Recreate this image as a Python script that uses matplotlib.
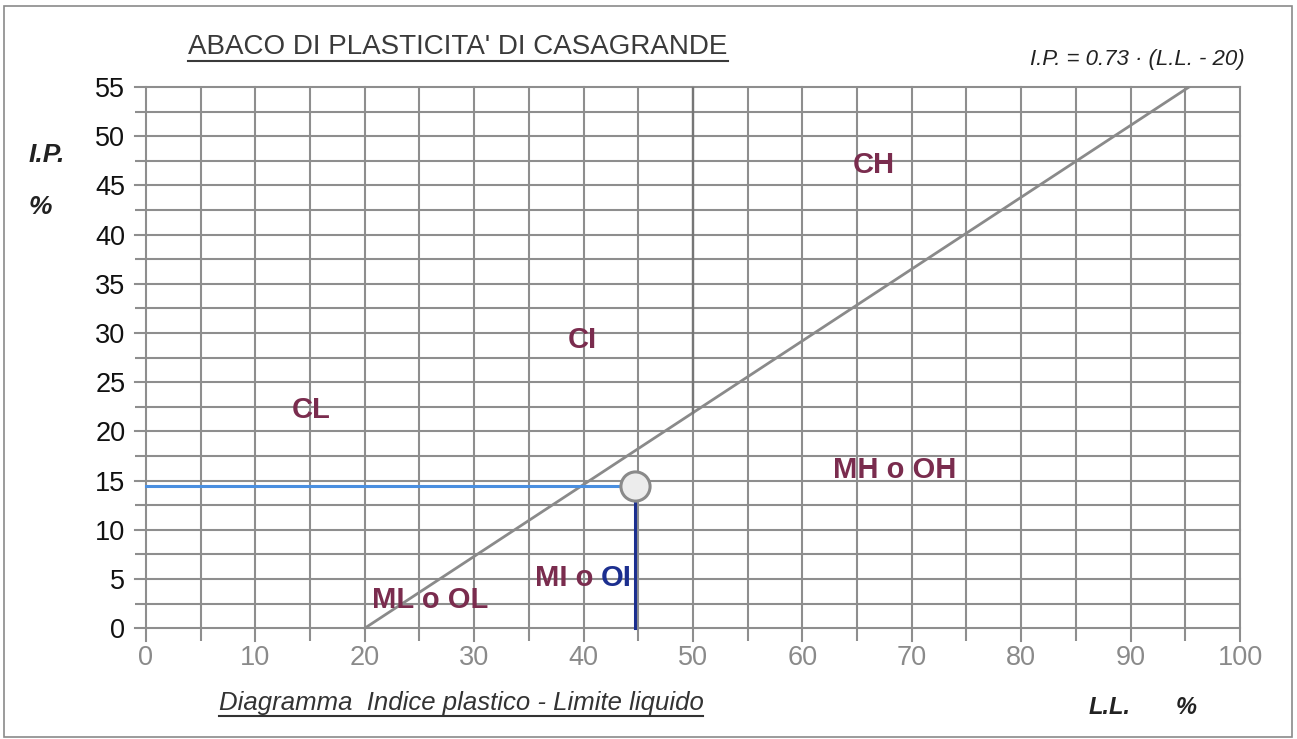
import matplotlib
matplotlib.use("Agg")
import matplotlib.pyplot as plt
from matplotlib.lines import Line2D
from matplotlib.patches import Rectangle
import numpy as np

plt.rcParams['font.family'] = ['Liberation Sans', 'DejaVu Sans']

# ---- data ----
x_ticks = [0, 10, 20, 30, 40, 50, 60, 70, 80, 90, 100]
y_ticks = [0, 5, 10, 15, 20, 25, 30, 35, 40, 45, 50, 55]
a_line_slope = 0.73
a_line_origin = 20
ll_boundary = 50
sample_ll = 44.7
sample_ip = 14.5
region_names = ["CL", "CI", "CH", "MH o OH", "ML o OL"]
region_x = [15.1, 39.9, 66.5, 68.4, 26.0]
region_y = [22.2, 29.3, 47.1, 16.1, 2.85]
mi_label = ("MI o ", "OI")
mi_pos = (41.6, 5.1)

title = "ABACO DI PLASTICITA' DI CASAGRANDE"
formula = "I.P. = 0.73 · (L.L. - 20)"
subtitle = "Diagramma  Indice plastico - Limite liquido"

W, H = 1297, 739
fig = plt.figure(figsize=(W / 100, H / 100), dpi=100)
ax = fig.add_axes([135 / W, 1 - 641 / H, (1240 - 135) / W, (641 - 87) / H])
ax.set_xlim(-1, 100)
ax.set_ylim(-1.3, 55)
for s in ax.spines.values():
    s.set_visible(False)

grid_col = "#8e8e8e"
ax.set_xticks(x_ticks)
ax.set_xticks(np.arange(0, 101, 5), minor=True)
ax.set_yticks(y_ticks)
ax.set_yticks(np.arange(0, 55.1, 2.5), minor=True)
ax.grid(which="both", color=grid_col, lw=1.5)
for gl in ax.get_xgridlines() + ax.get_ygridlines():
    gl.set_clip_on(False)
ax.tick_params(which="both", length=0)
ax.tick_params(axis="x", colors="#8a8a8a", labelsize=19.5, pad=3)
ax.tick_params(axis="y", colors="#111111", labelsize=19.5, pad=7)
ax.set_axisbelow(True)

# A-line
a_top = a_line_origin + y_ticks[-1] / a_line_slope
xs = np.array([a_line_origin, a_top])
ax.plot(xs, a_line_slope * (xs - a_line_origin), color="#8a8a8a", lw=2.0, zorder=3)
# LL = 50 boundary above A-line
ax.plot([ll_boundary, ll_boundary], [a_line_slope * (ll_boundary - a_line_origin), y_ticks[-1]],
        color="#767676", lw=1.7, zorder=3)

# sample point guides
ax.plot([0, sample_ll], [sample_ip, sample_ip], color="#4a8fe0", lw=2.2, zorder=4)
ax.plot([sample_ll, sample_ll], [0, sample_ip], color="#1c2f8f", lw=2.2, zorder=4)
ax.plot([sample_ll], [sample_ip], marker="o", ms=21, mfc="#ececec", mec="#8a8a8a", mew=2.2, zorder=5)

lab_col = "#7a2c4e"
for n, x, y in zip(region_names, region_x, region_y):
    ax.text(x, y, n, color=lab_col, fontsize=21, fontweight="bold", ha="center", va="center", zorder=6)
t1 = ax.text(mi_pos[0], mi_pos[1], mi_label[0], color=lab_col, fontsize=21, fontweight="bold",
             ha="right", va="center", zorder=6)
ax.annotate(mi_label[1], xy=(1, 0), xycoords=t1, va="bottom", ha="left", color="#1c2f8f",
            fontsize=21, fontweight="bold", zorder=6)

# texts
tt = fig.text(458 / W, 1 - 47 / H, title, ha="center", va="center", fontsize=20, color="#3a3a3a")
fig.text(1245 / W, 1 - 60 / H, formula, ha="right", va="center", fontsize=16, style="italic", color="#222222")
fig.text(47 / W, 1 - 155 / H, "I.P.", ha="center", va="center", fontsize=19, style="italic",
         fontweight="bold", color="#222222")
fig.text(40 / W, 1 - 207 / H, "%", ha="center", va="center", fontsize=19, style="italic",
         fontweight="bold", color="#222222")
st = fig.text(461 / W, 1 - 703 / H, subtitle, ha="center", va="center", fontsize=18.5, style="italic", color="#333333")
fig.text(1110 / W, 1 - 707 / H, "L.L.", ha="center", va="center", fontsize=17, style="italic",
         fontweight="bold", color="#222222")
fig.text(1186 / W, 1 - 707 / H, "%", ha="center", va="center", fontsize=17, style="italic",
         fontweight="bold", color="#222222")

# underlines
fig.canvas.draw()
r = fig.canvas.get_renderer()
for t, c in [(tt, "#3a3a3a"), (st, "#333333")]:
    bb = t.get_window_extent(r)
    yline = bb.y0 - 1
    fig.add_artist(Line2D([bb.x0 / W, bb.x1 / W], [yline / H, yline / H], transform=fig.transFigure,
                          color=c, lw=1.5))

# page frame
fig.add_artist(Rectangle((4 / W, 2 / H), (1292 - 4) / W, (733 - 2) / H, transform=fig.transFigure,
                         fill=False, edgecolor="#8a8a8a", lw=1.2))

fig.savefig("out.png", dpi=100)
